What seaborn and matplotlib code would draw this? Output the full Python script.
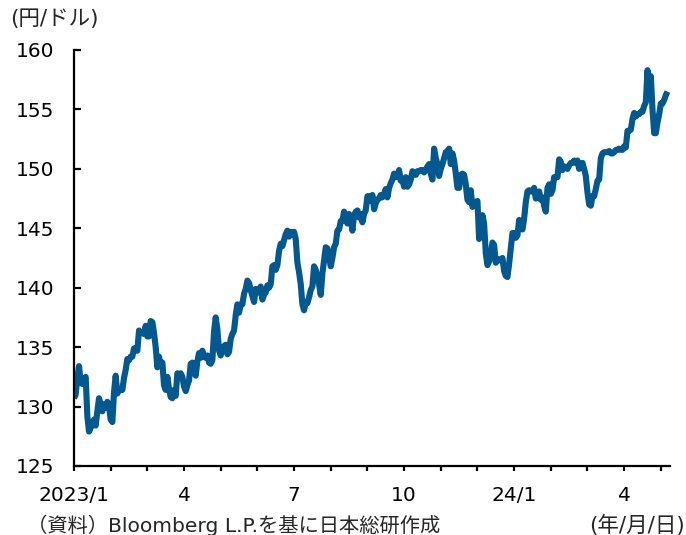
import matplotlib
matplotlib.use("Agg")
import matplotlib.pyplot as plt
import seaborn as sns
import numpy as np
import pandas as pd

# USD/JPY daily close, every weekday from 2023-01-02 to 2024-05-14
rates_2023 = [
    130.7, 131.0, 132.4, 133.4, 132.1,  131.9, 132.2, 132.5, 129.2, 127.9,
    128.2, 128.6, 128.9, 128.4, 129.6,  130.7, 130.2, 129.6, 130.2, 129.9,
    130.4, 130.1, 128.9, 128.7, 131.2,  132.6, 131.1, 131.4, 131.4, 131.4,
    132.4, 133.1, 134.0, 133.9, 134.2,  134.2, 134.9, 134.9, 134.7, 136.4,
    136.2, 136.2, 136.1, 136.8, 135.9,  135.9, 137.2, 137.1, 136.2, 135.0,
    133.3, 134.2, 133.4, 133.7, 131.8,  131.4, 132.5, 131.5, 130.8, 130.7,
    131.4, 130.9, 132.8, 132.7, 132.8,  132.5, 131.7, 131.3, 131.8, 132.2,
    133.6, 133.7, 133.0, 132.6, 133.8,  134.5, 134.1, 134.7, 134.2, 134.1,
    134.3, 133.7, 133.6, 133.9, 136.3,  137.5, 136.5, 134.7, 134.3, 134.8,
    135.1, 135.2, 134.4, 134.6, 135.7,  136.1, 136.4, 137.7, 138.6, 137.9,
    138.6, 138.6, 139.5, 139.9, 140.6,  140.4, 139.8, 139.3, 138.8, 139.9,
    139.6, 139.6, 140.1, 139.0, 139.4,  139.6, 140.2, 140.0, 140.3, 141.8,
    141.9, 141.5, 141.9, 143.1, 143.7,  143.5, 144.0, 144.5, 144.8, 144.3,
    144.7, 144.5, 144.7, 144.1, 142.1,  141.3, 140.3, 138.6, 138.1, 138.8,
    138.7, 139.2, 139.8, 140.1, 141.8,  141.5, 140.9, 140.3, 139.4, 141.2,
    142.3, 143.4, 143.3, 142.6, 141.8,  142.5, 143.4, 143.7, 144.8, 144.9,
    145.6, 145.6, 146.4, 145.8, 145.4,  146.2, 145.8, 144.8, 146.1, 146.4,
    146.5, 145.9, 146.2, 145.5, 146.2,  146.5, 147.7, 147.7, 147.3, 147.8,
    146.6, 147.1, 147.4, 147.5, 147.8,  147.6, 147.9, 148.3, 147.6, 148.4,
    148.8, 149.1, 149.6, 149.3, 149.4,  149.9, 149.0, 149.1, 148.5, 149.3,
    148.5, 148.7, 149.1, 149.8, 149.6,  149.5, 149.8, 149.8, 149.9, 149.9,
    149.7, 149.9, 150.2, 150.4, 149.6,  149.1, 151.7, 150.9, 150.4, 149.4,
    150.0, 150.4, 150.9, 151.4, 151.5,  151.7, 150.4, 151.3, 150.7, 149.6,
    148.4, 148.4, 149.5, 149.6, 149.5,  148.7, 147.4, 147.2, 148.2, 146.8,
    147.2, 147.2, 147.3, 144.1, 144.9,  146.1, 145.4, 142.9, 141.9, 142.2,
    142.8, 143.8, 143.6, 142.1, 142.4,  142.3, 142.4, 142.5, 141.4, 141.0,
]
rates_2024 = [
    140.9, 142.0, 143.3, 144.6, 144.6,  144.2, 144.4, 145.7, 145.3, 144.9,
    145.8, 147.2, 148.1, 148.2, 148.1,  148.1, 148.4, 147.5, 147.6, 148.1,
    147.4, 147.6, 146.9, 146.4, 148.4,  148.7, 147.9, 148.2, 149.3, 149.3,
    149.3, 150.8, 150.6, 149.9, 150.2,  150.1, 150.0, 150.3, 150.5, 150.5,
    150.7, 150.5, 150.7, 150.0, 150.1,  150.5, 150.0, 149.4, 148.0, 147.0,
    146.9, 147.7, 147.7, 148.3, 149.0,  149.1, 150.9, 151.3, 151.4, 151.4,
    151.4, 151.5, 151.3, 151.3, 151.4,  151.6, 151.6, 151.7, 151.6, 151.6,
    151.9, 151.8, 153.2, 153.2, 153.3,  154.2, 154.7, 154.4, 154.6, 154.6,
    154.8, 154.8, 155.3, 155.6, 158.3,  156.4, 157.8, 155.0, 153.0, 153.0,
    153.9, 154.6, 155.5, 155.5, 155.8,  156.2, 156.5,
]
rates = rates_2023 + rates_2024

# Tick marks every 22 observations; labels on every third tick
tick_step = 22
tick_labels = ["2023/1", "", "", "4", "", "", "7", "", "", "10", "", "",
               "24/1", "", "", "4", ""]
y_ticks = [125, 130, 135, 140, 145, 150, 155, 160]

df = pd.DataFrame({"obs": np.arange(len(rates)), "rate": rates})

sns.set_style("ticks")
plt.rcParams["font.family"] = ["DejaVu Sans", "Noto Sans CJK JP"]

fig = plt.figure(figsize=(6.86, 5.35), dpi=100)
ax = fig.add_axes([74 / 686, 1 - 466 / 535, 596 / 686, 416 / 535])

sns.lineplot(data=df, x="obs", y="rate", ax=ax, color="#03588F",
             linewidth=4.4, solid_joinstyle="round", solid_capstyle="butt")

ax.set_xlim(0, 357.5)
ax.set_ylim(125, 160)
ax.set_xticks([i * tick_step for i in range(len(tick_labels))])
ax.set_xticklabels(tick_labels)
ax.set_yticks(y_ticks)
ax.set_yticklabels([str(v) for v in y_ticks])
ax.set_xlabel("")
ax.set_ylabel("")

for side in ("top", "right"):
    ax.spines[side].set_visible(False)
for side in ("left", "bottom"):
    ax.spines[side].set_linewidth(1.6)
    ax.spines[side].set_color("black")

ax.tick_params(axis="y", direction="in", length=5, width=1.6,
               labelsize=14.5, pad=14, colors="black")
ax.tick_params(axis="x", direction="out", length=3.5, width=1.6,
               labelsize=14.5, pad=11, colors="black")

fig.text(10 / 686, 1 - 19 / 535, "(円/ドル)", fontsize=15.5, va="center", ha="left")
fig.text(27 / 686, 1 - 525 / 535, "（資料）Bloomberg L.P.を基に日本総研作成",
         fontsize=14.6, va="center", ha="left")
fig.text(685 / 686, 1 - 525 / 535, "(年/月/日)", fontsize=15.5, va="center", ha="right")

fig.savefig("out.png", dpi=100)
